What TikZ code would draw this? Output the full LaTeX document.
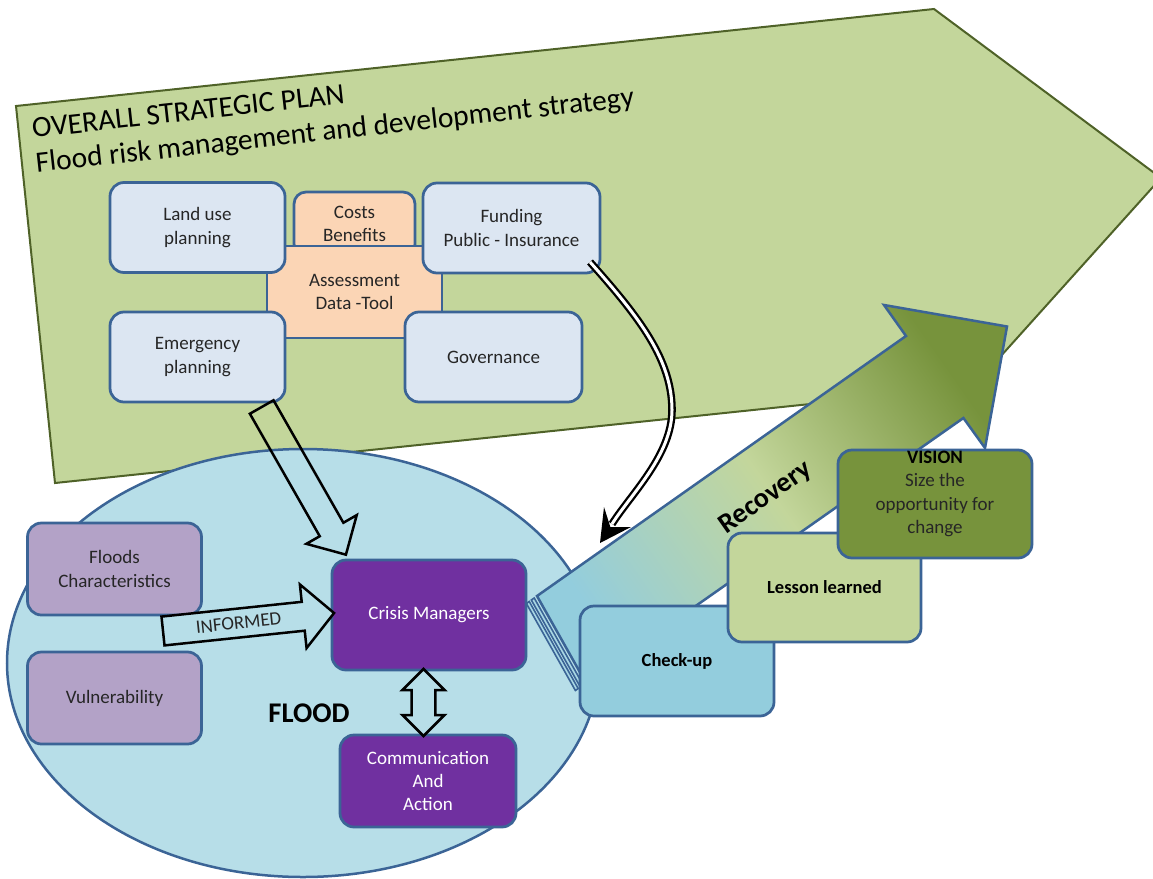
\documentclass[tikz,border=0pt]{standalone}
\usepackage{fontspec}
\setmainfont{Carlito}
\usetikzlibrary{arrows.meta,calc,shapes.geometric}
\definecolor{pgreen}{HTML}{C3D69B}
\definecolor{pedge}{HTML}{4F6228}
\definecolor{bedge}{HTML}{3B6496}
\definecolor{lblue}{HTML}{DCE6F2}
\definecolor{peach}{HTML}{FBD5B5}
\definecolor{ellblue}{HTML}{B7DEE8}
\definecolor{lilac}{HTML}{B3A2C7}
\definecolor{purp}{HTML}{7030A0}
\definecolor{chk}{HTML}{93CDDD}
\definecolor{olivetwo}{HTML}{77933C}
\definecolor{txt}{HTML}{262626}
\begin{document}
\begin{tikzpicture}[x=1pt,y=-1pt,
  bx/.style={draw=bedge, line width=2.75pt, rounded corners=14pt, align=center,
    inner sep=0pt, text=txt, font=\fontsize{19}{23.3}\selectfont},
  blk/.style={draw=black, line width=2.5pt},
  ttl/.style={anchor=base west, rotate=6.3, inner sep=0pt, text=black,
    font=\fontsize{29.5}{35}\selectfont}]
\useasboundingbox (0,0) rectangle (1153,878);
\clip (0,0) rectangle (1153,878);

% strategic plan pentagon
\draw[draw=pedge, fill=pgreen, line width=2pt]
  (16,106) -- (934,9) -- (1161,178) -- (973,387) -- (55,483) -- cycle;
\node[ttl] (title1) at (33,138) {OVERALL STRATEGIC PLAN};
\node[ttl] (title2) at (36.8,172.5) {Flood risk management and development strategy};

% plan boxes
\node[bx, fill=peach, minimum width=121, minimum height=64, rounded corners=12pt] (costs) at (354.5,224) {Costs\\Benefits};
\node[bx, fill=peach, minimum width=175, minimum height=92, sharp corners] (assess) at (354.5,292) {Assessment\\Data -Tool};
\node[bx, fill=lblue, minimum width=175, minimum height=90] (land) at (197.5,227.5) {Land use\\planning};
\node[bx, fill=lblue, minimum width=177, minimum height=90] (funding) at (511.5,228) {Funding\\Public - Insurance};
\node[bx, fill=lblue, minimum width=175, minimum height=90] (emerg) at (197.5,357) {Emergency\\planning};
\node[bx, fill=lblue, minimum width=177, minimum height=90] (gov) at (493.5,357) {Governance};

% flood ellipse
\node[ellipse, draw=bedge, fill=ellblue, line width=2.5pt, minimum width=592, minimum height=428, inner sep=0pt] (floodzone) at (303,663) {};

% block arrow emergency planning -> crisis managers
\begin{scope}[shift={(261.7,407)}, rotate=-60.3]
\draw[blk] (0,-13.6) -- (141,-13.6) -- (141,-29) -- (170,0) -- (141,29) -- (141,13.6) -- (0,13.6) -- cycle;
\end{scope}

% curved double arrow funding -> flood
\coordinate (cstart) at (590,262);
\coordinate (cend) at (612,524);
\coordinate (ctip) at (600,543);
\draw[line width=2.3pt, double=white, double distance=3pt]
  (cstart) .. controls (640,318) and (672,360) .. (672,410)
  .. controls (672,455) and (631,494) .. (cend);
\fill[black] (ctip) -- (604,507) -- (610.4,527.1) -- (631,527) -- cycle;

% recovery arrow
\draw[draw=bedge, line width=2.5pt, top color=chk, bottom color=olivetwo, middle color=pgreen, shading angle=125]
  (537,596) -- (906,336) -- (884,305) -- (1007,326.5) -- (985,448) -- (963.4,418) -- (586,683) -- cycle;
\draw[draw=bedge, line width=1.6pt, fill=chk!80!white]
  (526.4,603.5) -- (529.2,601.5) -- (578.2,688.5) -- (575.4,690.5) -- cycle;
\draw[draw=bedge, line width=1.6pt, fill=chk!80!white]
  (531.3,600) -- (534.2,598) -- (583.2,685) -- (580.3,687) -- cycle;

% flood boxes
\node[bx, fill=lilac, minimum width=174, minimum height=92] (floods) at (114.5,569) {Floods\\Characteristics};
\node[bx, fill=lilac, minimum width=174, minimum height=92] (vuln) at (114.5,698) {Vulnerability};
\node[bx, fill=purp, text=white, minimum width=194, minimum height=110] (crisis) at (429,615) {Crisis Managers};
\node[bx, fill=purp, text=white, minimum width=176, minimum height=92] (comm) at (428,781) {Communication\\And\\Action};
\node[font=\bfseries\fontsize{28.5}{30}\selectfont, text=black, inner sep=0pt] (floodlbl) at (309,713) {FLOOD};

% INFORMED arrow
\begin{scope}[shift={(163,631)}, rotate=6]
\draw[blk, fill=ellblue] (0,-14.5) -- (141,-14.5) -- (141,-32) -- (172,0) -- (141,32) -- (141,14.5) -- (0,14.5) -- cycle;
\node[rotate=6, text=txt, font=\fontsize{19}{22}\selectfont, inner sep=0pt] (informed) at (76,0) {INFORMED};
\end{scope}

% double arrow crisis <-> communication
\draw[blk, fill=ellblue] (423.5,669) -- (444.5,690) -- (435.3,690) -- (435.3,715) -- (444.5,715) -- (423.5,736)
  -- (402.5,715) -- (411.7,715) -- (411.7,690) -- (402.5,690) -- cycle;

% recovery steps
\node[bx, fill=chk, text=black, font=\bfseries\fontsize{18.5}{22}\selectfont, minimum width=194, minimum height=110] (checkup) at (677,661) {Check-up};
\node[bx, fill=pgreen, text=black, font=\bfseries\fontsize{18.5}{22}\selectfont, minimum width=193, minimum height=109] (lesson) at (824.5,587.5) {Lesson learned};
\node[bx, fill=olivetwo, minimum width=194, minimum height=108] (vision) at (935,504) {};
\node[align=center, text=txt, inner sep=0pt, font=\fontsize{19}{23.5}\selectfont] (visiontxt) at ([yshift=10pt]vision.center) {\textcolor{black}{\textbf{VISION}}\\Size the\\opportunity for\\change};
\node[rotate=35, text=black, inner sep=0pt, font=\bfseries\fontsize{28}{30}\selectfont] (rec) at (766,498) {Recovery};
\end{tikzpicture}
\end{document}
